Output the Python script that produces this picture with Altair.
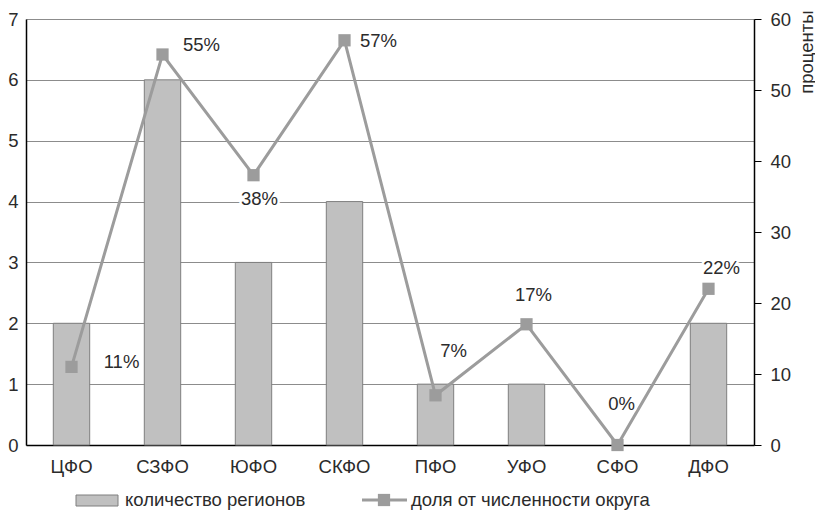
import altair as alt
import pandas as pd

# ---- data ----
categories = ["ЦФО", "СЗФО", "ЮФО", "СКФО", "ПФО", "УФО", "СФО", "ДФО"]
regions_count = [2, 6, 3, 4, 1, 1, 0, 2]
share_pct = [11, 55, 38, 57, 7, 17, 0, 22]
share_labels = ["11%", "55%", "38%", "57%", "7%", "17%", "0%", "22%"]

bar_name = "количество регионов"
line_name = "доля от численности округа"
right_title = "проценты"

df = pd.DataFrame({
    "cat": categories,
    "regions": regions_count,
    "share": share_pct,
    "label": share_labels,
})

FONT = "Liberation Sans"
TXT = "#2b2b2b"
BAR_FILL = "#c0c0c0"
BAR_STROKE = "#7f7f7f"
LINE_COL = "#9c9c9c"

W, H = 728, 426

x_enc = alt.X("cat:N", sort=categories, title=None,
              scale=alt.Scale(paddingInner=0.6, paddingOuter=0.3),
              axis=alt.Axis(labelAngle=0, ticks=False, domainColor="black",
                            domainWidth=1.5, labelPadding=12, labelFontSize=18.5,
                            labelColor=TXT, labelFont=FONT))

bars = alt.Chart(df).transform_filter(alt.datum.regions > 0).mark_bar(
    fill=BAR_FILL, stroke=BAR_STROKE, strokeWidth=1).encode(
    x=x_enc,
    y=alt.Y("regions:Q", title=None,
            scale=alt.Scale(domain=[0, 7], nice=False),
            axis=alt.Axis(orient="left", values=list(range(8)), ticks=False,
                          domainColor="black", domainWidth=1.5,
                          gridColor="#8c8c8c", gridWidth=1,
                          labelFontSize=18.5, labelColor=TXT, labelFont=FONT,
                          labelPadding=8)),
)

y_right = alt.Y("share:Q", title=right_title,
                scale=alt.Scale(domain=[0, 60], nice=False),
                axis=alt.Axis(orient="right", values=[0, 10, 20, 30, 40, 50, 60],
                              grid=False, tickSize=7, tickColor="black",
                              domainColor="black", domainWidth=1.5,
                              labelFontSize=18.5, labelColor=TXT, labelFont=FONT,
                              labelPadding=9, titleFontSize=18.5, titleFont=FONT,
                              titleColor=TXT, titleFontWeight="normal",
                              titleAngle=270, titleAlign="right",
                              titleBaseline="middle", titleX=52, titleY=-9))
x_plain = alt.X("cat:N", sort=categories)

line = alt.Chart(df).mark_line(color=LINE_COL, strokeWidth=3).encode(x=x_plain, y=y_right)
pts = alt.Chart(df).mark_point(shape="square", filled=True, size=150,
                               color=LINE_COL, opacity=1).encode(x=x_plain, y=y_right)

# label offsets (pixels) per category
offsets = {
    "ЦФО": (50, -5), "СЗФО": (39, -10), "ЮФО": (6, 24), "СКФО": (34, 1),
    "ПФО": (18, -44), "УФО": (7, -29), "СФО": (4, -41), "ДФО": (13, -21),
}
label_layers = []
for c, (dx, dy) in offsets.items():
    base = alt.Chart(df).transform_filter(alt.datum.cat == c)
    enc = dict(x=x_plain, y=y_right, text="label:N")
    label_layers.append(base.mark_text(dx=dx, dy=dy, fontSize=18.5, font=FONT,
                                       stroke="white", strokeWidth=5,
                                       color="white").encode(**enc))
    label_layers.append(base.mark_text(dx=dx, dy=dy, fontSize=18.5, font=FONT,
                                       color=TXT).encode(**enc))

right = alt.layer(line, pts, *label_layers)

# ---- manual legend ----
leg = alt.Chart(pd.DataFrame({"a": [0]}))
leg_rect = leg.mark_rect(fill=BAR_FILL, stroke=BAR_STROKE, strokeWidth=1).encode(
    x=alt.value(50), x2=alt.value(92), y=alt.value(476), y2=alt.value(487))
leg_t1 = leg.mark_text(align="left", baseline="middle", fontSize=18.5, font=FONT,
                       color=TXT, text=bar_name).encode(x=alt.value(99), y=alt.value(481))
leg_line = leg.mark_rule(color=LINE_COL, strokeWidth=3).encode(
    x=alt.value(336), x2=alt.value(381), y=alt.value(481))
leg_sq = leg.mark_point(shape="square", filled=True, size=150, color=LINE_COL,
                        opacity=1).encode(x=alt.value(358), y=alt.value(481))
leg_t2 = leg.mark_text(align="left", baseline="middle", fontSize=18.5, font=FONT,
                       color=TXT, text=line_name).encode(x=alt.value(385), y=alt.value(481))

chart = alt.layer(bars, right, leg_rect, leg_t1, leg_line, leg_sq, leg_t2).resolve_scale(
    y="independent"
).properties(
    width=W, height=H,
    padding={"left": 18, "top": 11, "right": 61, "bottom": 67},
    autosize=alt.AutoSizeParams(type="none"),
).configure_view(stroke=None).configure(background="white")

chart.save("out.html", embed_options={"renderer": "svg", "actions": False})
